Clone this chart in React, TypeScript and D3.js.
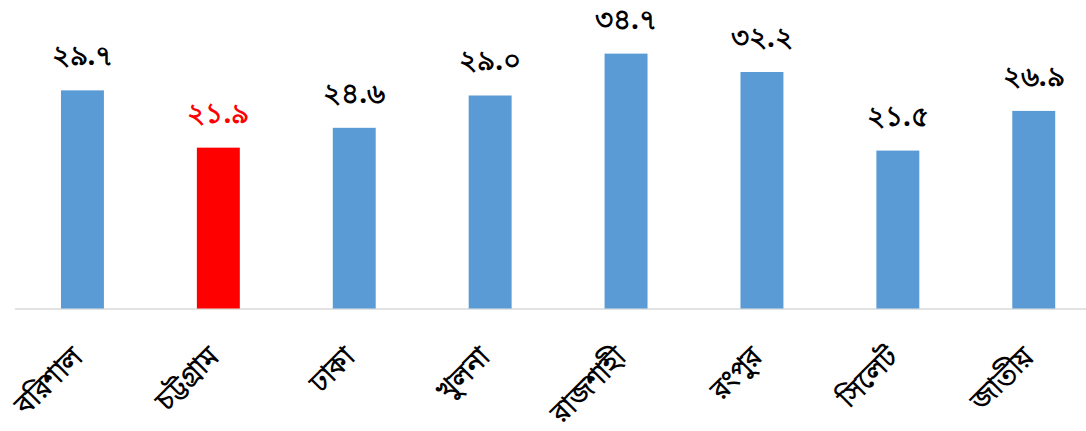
import React from "react";
import * as d3 from "d3";

const categories = ["বরিশাল", "চট্টগ্রাম", "ঢাকা", "খুলনা", "রাজশাহী", "রংপুর", "সিলেট", "জাতীয়"];
const values = [29.7, 21.9, 24.6, 29.0, 34.7, 32.2, 21.5, 26.9];
const valueLabels = ["২৯.৭", "২১.৯", "২৪.৬", "২৯.০", "৩৪.৭", "৩২.২", "২১.৫", "২৬.৯"];
const highlight = "চট্টগ্রাম";

const W = 1086;
const H = 431;

export default function App() {
  const x = d3.scaleBand<string>().domain(categories).range([14.5, 1101.7]).paddingInner(0.684).paddingOuter(0.342);
  const y = d3.scaleLinear().domain([0, 40]).range([308.5, 14.7]);
  const base = y(0);
  return (
    <svg width={W} height={H} style={{ position: "absolute", left: 0, top: 0 }}>
      <rect width={W} height={H} fill="#fff" />
      <line x1={15} x2={W} y1={base + 0.5} y2={base + 0.5} stroke="#d9d9d9" strokeWidth={1.5} />
      {categories.map((c, i) => {
        const cx = (x(c) as number) + x.bandwidth() / 2;
        const isH = c === highlight;
        return (
          <g key={c}>
            <rect x={x(c)} y={y(values[i])} width={x.bandwidth()} height={base - y(values[i])} fill={isH ? "#ff0000" : "#5b9bd5"} />
            <text x={cx} y={y(values[i]) - 25} textAnchor="middle" fontSize={28} fontWeight="bold" fontFamily="'Noto Sans', sans-serif" fill={isH ? "#ff0000" : "#000"}>
              {valueLabels[i]}
            </text>
            <text transform={`translate(${cx + 2},${base + 50}) rotate(-45)`} textAnchor="end" fontSize={27} fontWeight="bold" fontFamily="'Noto Sans', sans-serif" fill="#000">
              {c}
            </text>
          </g>
        );
      })}
    </svg>
  );
}
